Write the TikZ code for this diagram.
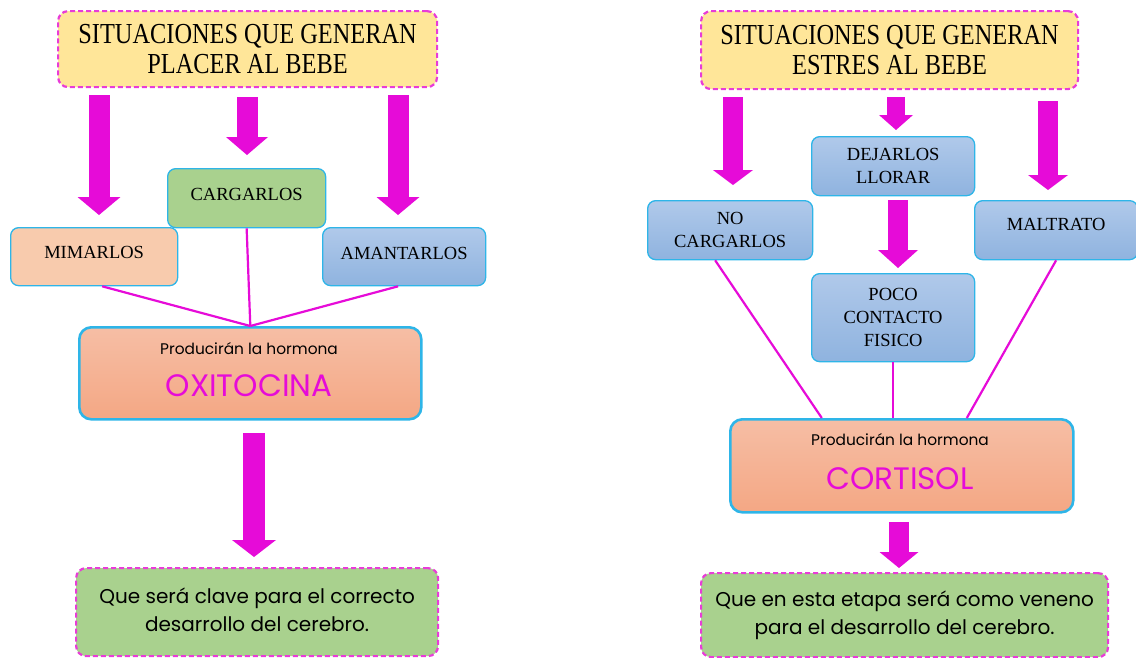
\documentclass[tikz,border=0pt]{standalone}
\usepackage{fontspec}
\setmainfont{Liberation Serif}
\newfontfamily\titlefont[FakeStretch=0.84]{Liberation Serif}
\newfontfamily\bodyfont{Poppins}
\usetikzlibrary{arrows.meta}
\definecolor{mag}{HTML}{E60BD8}
\definecolor{dashmag}{HTML}{E83CD8}
\definecolor{yel}{HTML}{FFE699}
\definecolor{grn}{HTML}{A9D18E}
\definecolor{peach}{HTML}{F8CBAD}
\definecolor{cyanb}{HTML}{2EB5E8}
\definecolor{bluet}{HTML}{B0C9EA}
\definecolor{blueb}{HTML}{8FB3DF}
\definecolor{orgt}{HTML}{F6BEA5}
\definecolor{orgb}{HTML}{F4A784}
\begin{document}
\begin{tikzpicture}[x=1pt,y=-1pt,
  titlebox/.style={draw=dashmag, dash pattern=on 5pt off 3pt, line width=2.2pt, fill=yel,
    rounded corners=10pt, anchor=north west, align=center, inner sep=0pt,
    font=\titlefont\fontsize{29}{30}\selectfont},
  endbox/.style={draw=dashmag, dash pattern=on 5pt off 3pt, line width=2.2pt, fill=grn,
    rounded corners=10pt, anchor=north west, align=center, inner sep=0pt,
    font=\bodyfont\fontsize{20}{28}\selectfont},
  lbox/.style={draw=cyanb, line width=1.3pt, rounded corners=8pt, anchor=north west,
    align=center, inner sep=0pt, font=\fontsize{18.5}{23}\selectfont},
  bluebox/.style={lbox, top color=bluet, bottom color=blueb},
  hbox/.style={draw=cyanb, line width=2.6pt, rounded corners=12pt, anchor=north west,
    inner sep=0pt, top color=orgt, bottom color=orgb},
  smalltxt/.style={font=\bodyfont\fontsize{15.4}{17}\selectfont, inner sep=0pt},
  hormtxt/.style={font=\bodyfont\fontsize{31}{33}\selectfont, text=mag, inner sep=0pt},
  link/.style={draw=mag, line width=2.2pt},
  barrow/.style n args={3}{draw=mag, fill=mag, line width=#1,
    -{Triangle[width=#2,length=#3,line width=0pt]}}
]
\useasboundingbox (0,0) rectangle (1136,657);

% ---------------- LEFT ----------------
\node[titlebox, minimum width=379pt, minimum height=76pt] (ttlL) at (57,10)
  {SITUACIONES QUE GENERAN\\PLACER AL BEBE};
\node[lbox, fill=grn, minimum width=158pt, minimum height=59pt] (carg) at (167,168) {\raisebox{8pt}{CARGARLOS}};
\node[lbox, fill=peach, minimum width=167pt, minimum height=58pt] (mim) at (10,227) {\raisebox{8pt}{MIMARLOS}};
\node[bluebox, minimum width=163pt, minimum height=58pt] (amant) at (322,227) {\raisebox{6pt}{AMANTARLOS}};
\node[hbox, minimum width=342pt, minimum height=92pt] (oxi) at (78,326) {};
\node[smalltxt] (oxiA) at (249,349) {Producirán la hormona};
\node[hormtxt] (oxiB) at (249,386) {OXITOCINA};
\node[endbox, minimum width=362pt, minimum height=88pt] (endL) at (75,567)
  {\raisebox{5pt}{Que será clave para el correcto}\\\raisebox{5pt}{desarrollo del cerebro.}};

\coordinate (a1s) at (99,95);  \coordinate (a1e) at (99,215);
\coordinate (a2s) at (247,97); \coordinate (a2e) at (247,155);
\coordinate (a3s) at (398,95); \coordinate (a3e) at (398,215);
\coordinate (a4s) at (254,433); \coordinate (a4e) at (254,557);
\draw[barrow={21pt}{43pt}{18pt}] (a1s) -- (a1e);
\draw[barrow={21pt}{42pt}{18pt}] (a2s) -- (a2e);
\draw[barrow={21pt}{43pt}{18pt}] (a3s) -- (a3e);
\draw[barrow={22pt}{44pt}{17pt}] (a4s) -- (a4e);

\draw[link] ([xshift=8pt]mim.south) -- (oxi.north);
\draw[link] (carg.south) -- (oxi.north);
\draw[link] ([xshift=-6pt]amant.south) -- (oxi.north);

% ---------------- RIGHT ----------------
\node[titlebox, minimum width=377pt, minimum height=78pt] (ttlR) at (700,10)
  {SITUACIONES QUE GENERAN\\ESTRES AL BEBE};
\node[bluebox, minimum width=163pt, minimum height=59pt] (dej) at (811,136) {DEJARLOS\\LLORAR};
\node[bluebox, minimum width=165pt, minimum height=59pt] (nocarg) at (647,200) {NO\\CARGARLOS};
\node[bluebox, minimum width=163pt, minimum height=59pt] (malt) at (974,200) {\raisebox{12pt}{MALTRATO}};
\node[bluebox, minimum width=163pt, minimum height=88pt] (poco) at (811,273) {POCO\\CONTACTO\\FISICO};
\node[hbox, minimum width=343pt, minimum height=93pt] (cort) at (729,418) {};
\node[smalltxt] (cortA) at (900,440) {Producirán la hormona};
\node[hormtxt] (cortB) at (900,479) {CORTISOL};
\node[endbox, minimum width=407pt, minimum height=84pt] (endR) at (700,572)
  {Que en esta etapa será como veneno\\para el desarrollo del cerebro.};

\coordinate (b1s) at (733,97);  \coordinate (b1e) at (733,185);
\coordinate (b2s) at (896,97);  \coordinate (b2e) at (896,130);
\coordinate (b3s) at (1048,101); \coordinate (b3e) at (1048,190);
\coordinate (b4s) at (898,200); \coordinate (b4e) at (898,268);
\coordinate (b5s) at (899,522); \coordinate (b5e) at (899,568);
\draw[barrow={20pt}{40pt}{15pt}] (b1s) -- (b1e);
\draw[barrow={18pt}{34pt}{15pt}] (b2s) -- (b2e);
\draw[barrow={20pt}{40pt}{15pt}] (b3s) -- (b3e);
\draw[barrow={20pt}{40pt}{18pt}] (b4s) -- (b4e);
\draw[barrow={20pt}{39pt}{16pt}] (b5s) -- (b5e);

\draw[link] ([xshift=-15pt]nocarg.south) -- ([xshift=-80pt]cort.north);
\draw[link] (poco.south) -- (poco.south |- cort.north);
\draw[link] (malt.south) -- ([xshift=65pt]cort.north);
\end{tikzpicture}
\end{document}
